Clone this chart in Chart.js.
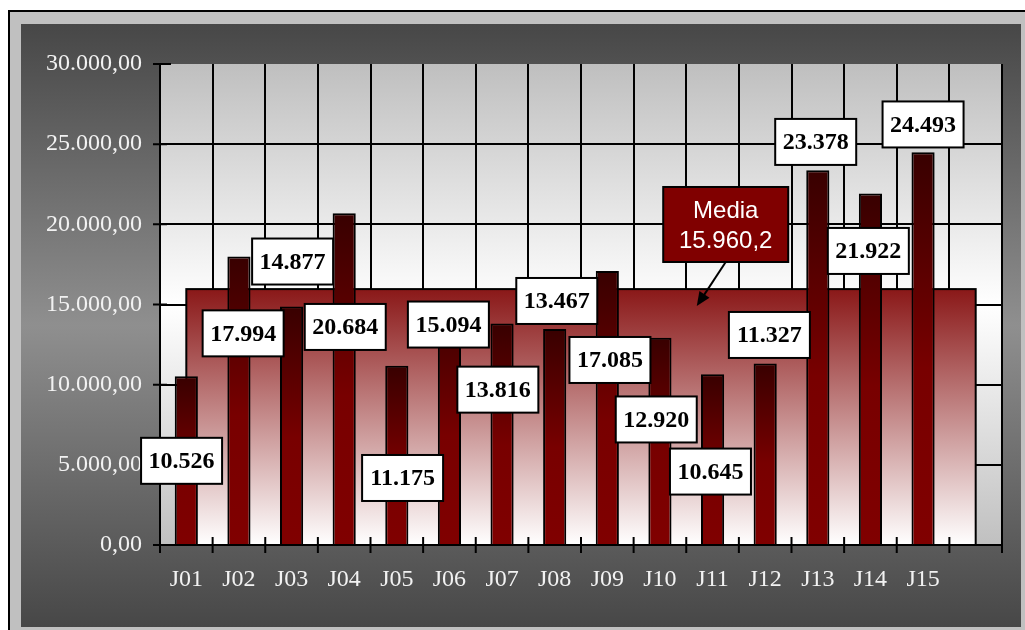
<!DOCTYPE html>
<html>
<head>
<meta charset="utf-8">
<script src="https://cdn.jsdelivr.net/npm/chart.js@4"></script>
<style>
  html, body { margin: 0; padding: 0; background: #fff; }
  canvas { display: block; }
</style>
</head>
<body>
<canvas id="chart" width="1025" height="630"></canvas>
<script>
// datos
const categories = ["J01", "J02", "J03", "J04", "J05", "J06", "J07", "J08", "J09", "J10", "J11", "J12", "J13", "J14", "J15", ""];
const values = [10526, 17994, 14877, 20684, 11175, 15094, 13816, 13467, 17085, 12920, 10645, 11327, 23378, 21922, 24493];
const yMin = 0, yMax = 30000, yStep = 5000;
const meanTitle = "Media";

// donde va cada etiqueta: desplazamiento en categorias y altura en unidades del eje
const labelShift = [-0.09, 0.08, 0.02, 0.02, 0.11, -0.02, -0.08, 0.04, 0.05, -0.07, -0.04, 0.08, -0.04, -0.04, 0];
const labelLevel = [5250, 13200, 17680, 13600, 4180, 13750, 9690, 15220, 11540, 7830, 4580, 13100, 25140, 18340, 26230];
const calloutAt = { index: 10.25, value: 19990 };
const arrowTip = { index: 9.70, value: 14900 };

const mean = values.reduce((a, b) => a + b, 0) / values.length;

const serif = "'Liberation Serif', 'Times New Roman', serif";
const sans = "'Liberation Sans', Arial, sans-serif";

function fmt(v, dec) {
    const parts = v.toFixed(dec).split(".");
    const int = parts[0].replace(/\B(?=(\d{3})+(?!\d))/g, ".");
    return parts[1] ? int + "," + parts[1] : int;
}

const decor = {
    id: "decor",
    beforeDraw(chart) {
        const ctx = chart.ctx, a = chart.chartArea;
        ctx.save();
        ctx.fillStyle = "#fff";
        ctx.fillRect(0, 0, chart.width, chart.height);
        ctx.fillStyle = "#c0c0c0";
        ctx.fillRect(9, 11, chart.width, chart.height);
        ctx.strokeStyle = "#000";
        ctx.lineWidth = 2;
        ctx.strokeRect(9, 11, chart.width + 20, chart.height + 20);

        // panel oscuro
        let g = ctx.createLinearGradient(0, 24, 0, 627);
        g.addColorStop(0, "#474747");
        g.addColorStop(0.5, "#8f8f8f");
        g.addColorStop(1, "#474747");
        ctx.fillStyle = g;
        ctx.fillRect(21, 24, 1000, 603);

        // fondo del area de trazado
        g = ctx.createLinearGradient(0, a.top, 0, a.bottom);
        g.addColorStop(0, "#bfbfbf");
        g.addColorStop(0.5, "#ffffff");
        g.addColorStop(1, "#c0c0c0");
        ctx.fillStyle = g;
        ctx.fillRect(a.left, a.top, a.width, a.height);
        ctx.restore();
    },
    beforeDatasetsDraw(chart) {
        // banda de la media
        const ctx = chart.ctx, x = chart.scales.x, y = chart.scales.y;
        const x0 = x.getPixelForValue(0), x1 = x.getPixelForValue(categories.length - 1);
        const yt = y.getPixelForValue(mean), yb = y.getPixelForValue(yMin);
        ctx.save();
        const g = ctx.createLinearGradient(0, yt, 0, yb);
        g.addColorStop(0, "#8a1818");
        g.addColorStop(1, "#ffffff");
        ctx.fillStyle = g;
        ctx.fillRect(x0, yt, x1 - x0, yb - yt);
        ctx.strokeStyle = "#000";
        ctx.lineWidth = 2;
        ctx.strokeRect(x0, yt, x1 - x0, yb - yt);
        ctx.restore();
    },
    afterDatasetsDraw(chart) {
        const ctx = chart.ctx, a = chart.chartArea, x = chart.scales.x, y = chart.scales.y;
        ctx.save();
        ctx.strokeStyle = "#000";
        ctx.lineWidth = 2;

        // eje x y marcas
        ctx.beginPath();
        ctx.moveTo(a.left, a.bottom);
        ctx.lineTo(a.right, a.bottom);
        for (let i = 0; i <= categories.length; i++) {
            const px = x.getPixelForValue(i - 0.5);
            ctx.moveTo(px, a.bottom - 8);
            ctx.lineTo(px, a.bottom + 8);
        }
        for (let v = yMin; v <= yMax; v += yStep) {
            const py = y.getPixelForValue(v);
            ctx.moveTo(a.left - 7, py);
            ctx.lineTo(a.left + (v === yMax ? 11 : 7), py);
        }
        ctx.stroke();

        // etiquetas de valores
        ctx.font = "bold 24px " + serif;
        ctx.textAlign = "center";
        ctx.textBaseline = "middle";
        values.forEach((v, i) => {
            const cx = x.getPixelForValue(i + labelShift[i]);
            const cy = y.getPixelForValue(labelLevel[i]);
            const w = 81, h = 46;
            ctx.fillStyle = "#fff";
            ctx.fillRect(cx - w / 2, cy - h / 2, w, h);
            ctx.strokeRect(cx - w / 2, cy - h / 2, w, h);
            ctx.fillStyle = "#000";
            ctx.fillText(fmt(v, 0), cx, cy + 1);
        });

        // recuadro de la media con flecha
        const bx = x.getPixelForValue(calloutAt.index), by = y.getPixelForValue(calloutAt.value);
        const bw = 125, bh = 75;
        ctx.fillStyle = "#800000";
        ctx.fillRect(bx - bw / 2, by - bh / 2, bw, bh);
        ctx.strokeRect(bx - bw / 2, by - bh / 2, bw, bh);
        ctx.fillStyle = "#fff";
        ctx.font = "24px " + sans;
        ctx.fillText(meanTitle, bx, by - 13);
        ctx.fillText(fmt(mean, 1), bx, by + 17);

        const sx = bx, sy = by + bh / 2;
        const tx = x.getPixelForValue(arrowTip.index), ty = y.getPixelForValue(arrowTip.value);
        const ang = Math.atan2(ty - sy, tx - sx);
        ctx.beginPath();
        ctx.moveTo(sx, sy);
        ctx.lineTo(tx - 8 * Math.cos(ang), ty - 8 * Math.sin(ang));
        ctx.stroke();
        ctx.beginPath();
        ctx.moveTo(tx, ty);
        ctx.lineTo(tx - 14 * Math.cos(ang) + 6 * Math.sin(ang), ty - 14 * Math.sin(ang) - 6 * Math.cos(ang));
        ctx.lineTo(tx - 14 * Math.cos(ang) - 6 * Math.sin(ang), ty - 14 * Math.sin(ang) + 6 * Math.cos(ang));
        ctx.closePath();
        ctx.fillStyle = "#000";
        ctx.fill();
        ctx.restore();
    }
};

const ctx = document.getElementById("chart").getContext("2d");
new Chart(ctx, {
    type: "bar",
    data: {
        labels: categories,
        datasets: [{
            data: values,
            backgroundColor: (c) => {
                const chart = c.chart, y = chart.scales.y;
                if (!chart.chartArea || !y || c.raw == null) return "#700000";
                const top = y.getPixelForValue(c.raw), bottom = y.getPixelForValue(yMin);
                const g = chart.ctx.createLinearGradient(0, top, 0, bottom);
                g.addColorStop(0, "#380000");
                g.addColorStop(0.55, "#780000");
                g.addColorStop(1, "#800000");
                return g;
            },
            borderColor: "#000",
            borderWidth: 2,
            barPercentage: 0.44,
            categoryPercentage: 1,
        }],
    },
    options: {
        responsive: false,
        animation: false,
        layout: { padding: { top: 64, right: 23, left: 0, bottom: 0 } },
        plugins: {
            legend: { display: false },
            tooltip: { enabled: false },
        },
        scales: {
            x: {
                grid: { color: "#000", lineWidth: 2, offset: true, drawTicks: false },
                border: { color: "#000", width: 2 },
                ticks: {
                    color: "#f2f2f2",
                    font: { family: serif, size: 24 },
                    padding: 20,
                    autoSkip: false,
                    maxRotation: 0,
                },
                afterFit(s) { s.height = 85; },
            },
            y: {
                min: yMin,
                max: yMax,
                grid: {
                    color: (c) => (c.tick && c.tick.value === yMax ? "rgba(0,0,0,0)" : "#000"),
                    lineWidth: 2,
                    drawTicks: false,
                },
                border: { color: "#000", width: 2 },
                ticks: {
                    stepSize: yStep,
                    color: "#f2f2f2",
                    font: { family: serif, size: 24 },
                    padding: 18,
                    callback: (v) => fmt(v, 2),
                },
                afterFit(s) { s.width = 160; },
            },
        },
    },
    plugins: [decor],
});
</script>
</body>
</html>
